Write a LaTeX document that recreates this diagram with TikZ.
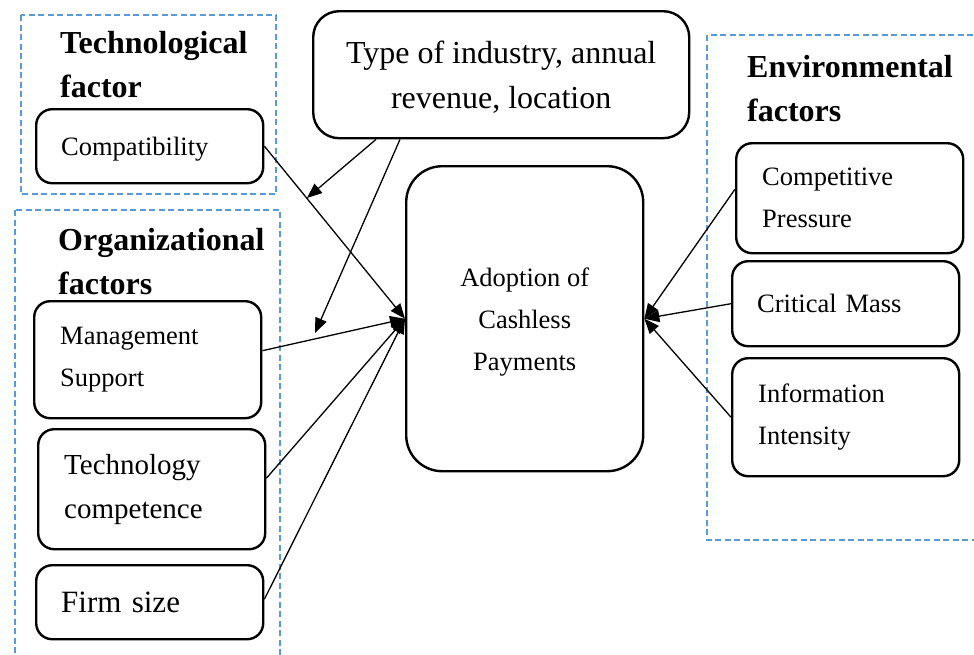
\documentclass[tikz,border=0pt]{standalone}
\usepackage{fontspec}
\setmainfont{Liberation Serif}
\usetikzlibrary{arrows.meta}
\definecolor{dashblue}{RGB}{91,155,213}
\tikzset{
  group/.style={draw=dashblue, line width=2pt, dash pattern=on 6pt off 3.5pt},
  factor/.style={draw, line width=2.4pt, rounded corners=16pt, anchor=north west,
    align=left, inner xsep=26pt, text width=175pt, minimum width=227pt,
    font=\fontsize{26.5}{42}\selectfont},
  single/.style={inner xsep=25pt, text width=177pt, text depth=0pt},
  heading/.style={anchor=north west, align=left, inner sep=0pt,
    font=\fontsize{32}{44}\selectfont\bfseries},
  link/.style={line width=1.3pt, -{Triangle[length=15pt,width=12pt]}}
}
\begin{document}
\begin{tikzpicture}[x=1pt,y=-1pt]
    \useasboundingbox (0,0) rectangle (974,654);
    \clip (0,0) rectangle (974,654);
    % dashed groups
    \draw[group] (20.5,15) rectangle (276,194);
    \draw[group] (15,210) rectangle (280,680);
    \draw[group] (707,35) rectangle (1000,540);
    \node[heading] (techhead) at (60,31) {Technological\\factor};
    \node[heading] (orghead) at (58,228) {Organizational\\factors};
    \node[heading] (envhead) at (747,55) {Environmental\\factors};
    % boxes
    \node[draw, line width=2.4pt, rounded corners=26pt, anchor=north west, align=center,
        minimum width=376pt, minimum height=127pt, text depth=0pt, font=\fontsize{32}{45}\selectfont]
        (type) at (312,10) {Type of industry, annual\\revenue, location};
    \node[draw, line width=2.4pt, rounded corners=36pt, anchor=north west, align=center,
        minimum width=237pt, minimum height=305pt, text depth=0pt, font=\fontsize{26.5}{42}\selectfont]
        (adopt) at (405,165) {Adoption of\\Cashless\\Payments};
    \node[factor, single, minimum height=74pt] (compat) at (35,108) {Compatibility};
    \node[factor, minimum height=117pt] (mgmt) at (33,300) {Management\\Support};
    \node[factor, minimum height=120pt, font=\fontsize{29}{44}\selectfont] (techcomp) at (37,428) {Technology\\competence};
    \node[factor, single, minimum height=74pt, font=\fontsize{31}{42}\selectfont] (firm) at (35,564) {Firm size};
    \node[factor, minimum height=110pt] (comp) at (735,142) {Competitive\\Pressure};
    \node[factor, single, minimum height=85pt] (crit) at (731,260) {Critical Mass};
    \node[factor, minimum height=118pt] (info) at (731,357) {Information\\Intensity};
    \coordinate (tip1) at (307,198);
    \coordinate (tip2) at (315,333);
    % arrows
    \draw[link] ([xshift=64pt]type.south west) -- (tip1);
    \draw[link] ([xshift=88pt]type.south west) -- (tip2);
    \draw[link] (compat.east) -- (adopt.west);
    \draw[link] ([yshift=9pt]mgmt.east) -- (adopt.west);
    \draw[link] ([yshift=11pt]techcomp.east) -- (adopt.west);
    \draw[link] ([yshift=3pt]firm.east) -- (adopt.west);
    \draw[link] ([yshift=9pt]comp.west) -- (adopt.east);
    \draw[link] (crit.west) -- (adopt.east);
    \draw[link] (info.west) -- (adopt.east);
\end{tikzpicture}
\end{document}
